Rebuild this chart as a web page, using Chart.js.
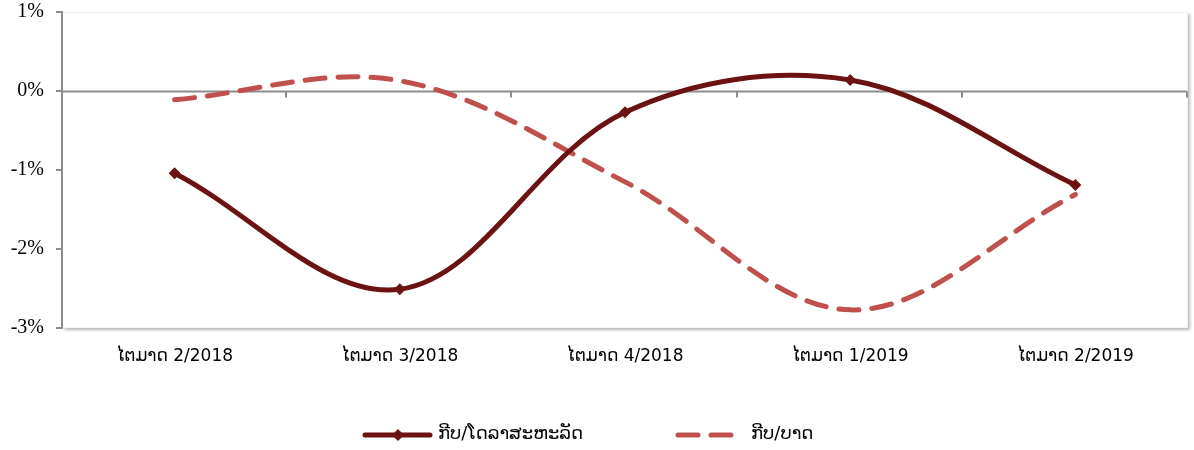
<!DOCTYPE html>
<html>
<head>
<meta charset="utf-8">
<script src="https://cdn.jsdelivr.net/npm/chart.js@4/dist/chart.umd.min.js"></script>
<style>
  html, body { margin: 0; padding: 0; background: #fff; }
  #wrap { width: 1194px; height: 450px; }
</style>
</head>
<body>
<div id="wrap"><canvas id="chart1" width="1194" height="450"></canvas></div>
<script>
//----------------- data -------------------------
const quarters = ["ໄຕມາດ 2/2018", "ໄຕມາດ 3/2018", "ໄຕມາດ 4/2018", "ໄຕມາດ 1/2019", "ໄຕມາດ 2/2019"];
const seriesNames = ["ກີບ/ໂດລາສະຫະລັດ", "ກີບ/ບາດ"];
const kipUsd = [-1.04, -2.51, -0.27, 0.14, -1.19];
const kipBaht = [-0.11, 0.13, -1.15, -2.77, -1.31];
const yTicks = [-3, -2, -1, 0, 1];

const darkRed = "#6b1212";
const lightRed = "#c0504d";
const axisGray = "#8c8c8c";

//----------------- plot area shadow + zero line ticks -----------------
const areaPlugin = {
    id: "areaPlugin",
    beforeDraw(chart) {
        const ctx = chart.ctx;
        const a = chart.chartArea;
        ctx.save();
        ctx.fillStyle = "#fff";
        ctx.shadowColor = "rgba(0,0,0,0.28)";
        ctx.shadowBlur = 3;
        ctx.shadowOffsetX = 2;
        ctx.shadowOffsetY = 2;
        ctx.fillRect(a.left, a.top, a.right - a.left, a.bottom - a.top);
        ctx.restore();
        ctx.save();
        ctx.strokeStyle = "#f2f2f2";
        ctx.lineWidth = 1;
        ctx.strokeRect(a.left + 0.5, a.top + 0.5, a.right - a.left - 1, a.bottom - a.top - 1);
        ctx.restore();
    },
    beforeDatasetsDraw(chart) {
        // little tick marks hanging under the 0% line, Excel style
        const ctx = chart.ctx;
        const x = chart.scales.x;
        const y = chart.scales.y;
        const y0 = Math.round(y.getPixelForValue(0)) + 0.5;
        const half = (x.getPixelForValue(1) - x.getPixelForValue(0)) / 2;
        ctx.save();
        ctx.strokeStyle = axisGray;
        ctx.lineWidth = 2;
        ctx.beginPath();
        ctx.moveTo(chart.chartArea.left, y0);
        ctx.lineTo(chart.chartArea.right - 1, y0);
        for (let i = 0; i < quarters.length; i++) {
            const bx = Math.round(x.getPixelForValue(i) + half) - 1;
            ctx.moveTo(bx, y0);
            ctx.lineTo(bx, y0 + 6);
        }
        ctx.stroke();
        ctx.restore();
    }
};

//----------------- custom legend (line + marker sample) -----------------
const legendPlugin = {
    id: "legendPlugin",
    afterDraw(chart) {
        const ctx = chart.ctx;
        const ly = 435;
        const items = [
            { x: 362, ds: chart.data.datasets[0] },
            { x: 675, ds: chart.data.datasets[1] }
        ];
        ctx.save();
        ctx.font = "18px 'DejaVu Sans'";
        ctx.textBaseline = "middle";
        items.forEach(it => {
            ctx.strokeStyle = it.ds.borderColor;
            ctx.lineWidth = 5;
            ctx.lineCap = "round";
            ctx.setLineDash(it.ds.borderDash || []);
            ctx.beginPath();
            ctx.moveTo(it.x + 3, ly);
            ctx.lineTo(it.x + 68, ly);
            ctx.stroke();
            ctx.setLineDash([]);
            if (it.ds.pointRadius > 0) {
                const cx = it.x + 36;
                ctx.fillStyle = it.ds.borderColor;
                ctx.beginPath();
                ctx.moveTo(cx, ly - 6);
                ctx.lineTo(cx + 6, ly);
                ctx.lineTo(cx, ly + 6);
                ctx.lineTo(cx - 6, ly);
                ctx.closePath();
                ctx.fill();
            }
            ctx.fillStyle = "#000";
            ctx.fillText(it.ds.label, it.x + 76, ly - 1);
        });
        ctx.restore();
    }
};

const data = {
    labels: quarters,
    datasets: [
        {
            label: seriesNames[0],
            data: kipUsd,
            borderColor: darkRed,
            backgroundColor: darkRed,
            borderWidth: 5,
            pointStyle: "rectRot",
            pointRadius: 6,
            pointBorderWidth: 0,
            tension: 0.35,
            order: 1
        },
        {
            label: seriesNames[1],
            data: kipBaht,
            borderColor: lightRed,
            backgroundColor: lightRed,
            borderWidth: 5,
            borderDash: [20, 13],
            borderCapStyle: "round",
            pointRadius: 0,
            tension: 0.35,
            order: 2
        }
    ]
};

const config = {
    type: "line",
    data: data,
    options: {
        responsive: false,
        animation: false,
        layout: { padding: { top: 12, right: 4, left: 0, bottom: 0 } },
        plugins: {
            legend: { display: false },
            tooltip: { enabled: false }
        },
        scales: {
            x: {
                offset: true,
                grid: { display: false, drawTicks: false },
                border: { display: false },
                ticks: {
                    padding: 18,
                    color: "#000",
                    font: { family: "'DejaVu Sans'", size: 17 },
                    maxRotation: 0
                },
                afterFit(scale) {
                    scale.height = 122;
                    scale.paddingLeft = 0;
                    scale.paddingRight = 0;
                }
            },
            y: {
                min: yTicks[0],
                max: yTicks[yTicks.length - 1],
                afterBuildTicks(scale) {
                    scale.ticks = yTicks.map(v => ({ value: v }));
                },
                grid: {
                    drawOnChartArea: false,
                    drawTicks: true,
                    tickLength: 6,
                    color: axisGray,
                    lineWidth: 2
                },
                border: { display: true, color: axisGray, width: 2 },
                ticks: {
                    padding: 12,
                    color: "#000",
                    font: { family: "'Liberation Serif'", size: 20 },
                    callback: v => v + "%"
                },
                afterFit(scale) {
                    scale.width = 62;
                    scale.paddingTop = 0;
                    scale.paddingBottom = 0;
                }
            }
        }
    },
    plugins: [areaPlugin, legendPlugin]
};

const myChart = new Chart(document.getElementById("chart1").getContext("2d"), config);
</script>
</body>
</html>
